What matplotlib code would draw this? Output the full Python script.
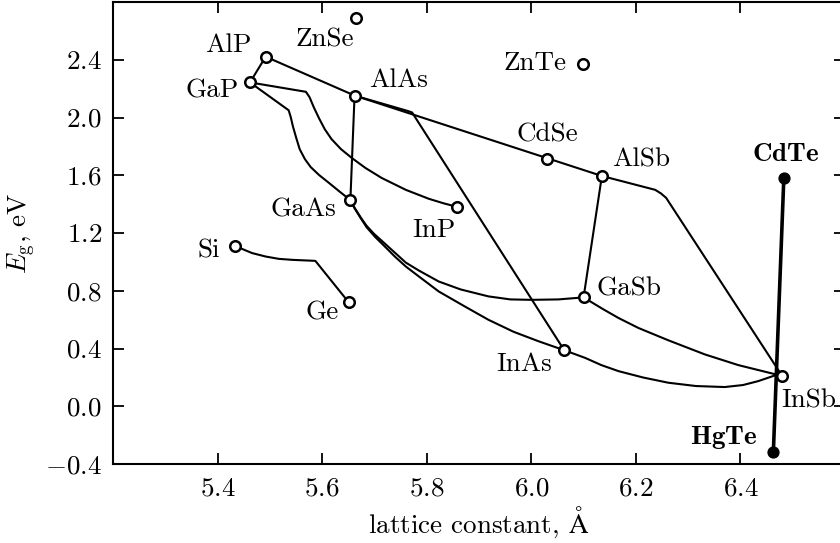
import numpy as np
import matplotlib
matplotlib.use('Agg')
import matplotlib.pyplot as plt
from matplotlib.ticker import FuncFormatter

plt.rcParams['font.family'] = ['cmr10', 'STIXGeneral']
plt.rcParams['mathtext.fontset'] = 'cm'
plt.rcParams['axes.unicode_minus'] = False

# Binary compounds / elements: lattice constant (Angstrom) and band gap (eV)
names = ['AlP', 'GaP', 'AlAs', 'GaAs', 'InP', 'InAs', 'CdSe', 'AlSb',
         'GaSb', 'InSb', 'Si', 'Ge', 'ZnSe', 'ZnTe']
lattice = [5.492, 5.462, 5.662, 5.654, 5.858, 6.063, 6.030, 6.135,
           6.100, 6.480, 5.434, 5.651, 5.664, 6.098]
gap = [2.421, 2.243, 2.152, 1.428, 1.381, 0.388, 1.710, 1.595,
       0.754, 0.209, 1.110, 0.719, 2.692, 2.374]

# HgTe-CdTe line (drawn heavier)
hgcd_names = ['HgTe', 'CdTe']
hgcd_lattice = [6.463, 6.483]
hgcd_gap = [-0.315, 1.581]

# Alloy curves between compounds, (a, Eg) points
alp_gap = [(5.492, 2.421), (5.462, 2.243)]
alp_alas = [(5.492, 2.421), (5.662, 2.152)]
alas_alsb = [(5.662, 2.152), (6.135, 1.595)]
alsb_insb = [(6.135, 1.595), (6.237, 1.499), (6.248, 1.474), (6.258, 1.443),
             (6.480, 0.209)]
alas_inas = [(5.662, 2.152), (5.764, 2.045), (5.772, 2.035), (6.063, 0.388)]
alas_gaas = [(5.662, 2.152), (5.654, 1.428)]
alsb_gasb = [(6.135, 1.595), (6.100, 0.754)]
gap_inp = [(5.462, 2.243), (5.569, 2.178), (5.576, 2.140), (5.584, 2.071),
           (5.594, 1.995), (5.605, 1.919), (5.618, 1.850), (5.636, 1.781),
           (5.657, 1.719), (5.683, 1.650), (5.714, 1.581), (5.760, 1.499),
           (5.804, 1.437), (5.832, 1.406), (5.858, 1.381)]
gap_gaas = [(5.462, 2.243), (5.536, 2.050), (5.540, 2.002), (5.544, 1.940),
            (5.550, 1.864), (5.557, 1.781), (5.567, 1.712), (5.578, 1.657),
            (5.594, 1.602), (5.613, 1.547), (5.634, 1.485), (5.654, 1.428)]
gaas_gasb = [(5.654, 1.428), (5.662, 1.375), (5.674, 1.306), (5.685, 1.250),
             (5.699, 1.195), (5.718, 1.133), (5.739, 1.064), (5.760, 0.995),
             (5.785, 0.940), (5.823, 0.864), (5.865, 0.809), (5.918, 0.761),
             (5.960, 0.740), (6.000, 0.737), (6.052, 0.740), (6.100, 0.754)]
gaas_inas = [(5.654, 1.428), (5.662, 1.371), (5.674, 1.302), (5.685, 1.240),
             (5.701, 1.174), (5.720, 1.106), (5.739, 1.037), (5.760, 0.968),
             (5.785, 0.899), (5.823, 0.795), (5.871, 0.695), (5.918, 0.599),
             (5.966, 0.516), (6.014, 0.450), (6.063, 0.388)]
inas_insb = [(6.063, 0.388), (6.103, 0.335), (6.134, 0.285), (6.167, 0.243),
             (6.214, 0.199), (6.262, 0.163), (6.315, 0.140), (6.370, 0.133),
             (6.405, 0.147), (6.434, 0.174), (6.468, 0.216), (6.480, 0.209)]
gasb_insb = [(6.100, 0.754), (6.138, 0.671), (6.167, 0.611), (6.205, 0.542),
             (6.262, 0.457), (6.332, 0.359), (6.396, 0.285), (6.465, 0.223),
             (6.480, 0.209)]
si_ge = [(5.434, 1.110), (5.450, 1.085), (5.466, 1.061), (5.492, 1.037),
         (5.517, 1.021), (5.543, 1.014), (5.587, 1.007), (5.651, 0.719)]

curves = [alp_gap, alp_alas, alas_alsb, alsb_insb, alas_inas, alas_gaas,
          alsb_gasb, gap_inp, gap_gaas, gaas_gasb, gaas_inas, inas_insb,
          gasb_insb, si_ge]

# label offsets from each marker, in points
label_offsets = {
    'AlP': (-27, 8), 'GaP': (-27, -6), 'AlAs': (32, 11), 'GaAs': (-34, -7),
    'InP': (-17, -17), 'InAs': (-29, -10), 'CdSe': (0, 18), 'AlSb': (28, 12),
    'GaSb': (33, 6), 'InSb': (19, -18), 'Si': (-19, -3), 'Ge': (-19, -7),
    'ZnSe': (-22, -16), 'ZnTe': (-34, 0), 'HgTe': (-36, 10), 'CdTe': (1, 17),
}

fig = plt.figure(figsize=(8.4, 5.43), dpi=100)
ax = fig.add_axes([113 / 840, 79 / 543, 732 / 840, 462 / 543])

for c in curves:
    pts = np.array(c)
    ax.plot(pts[:, 0], pts[:, 1], color='black', lw=1.5,
            solid_joinstyle='round', solid_capstyle='round', zorder=2)

ax.plot(hgcd_lattice, hgcd_gap, color='black', lw=2.6, zorder=3)
ax.plot(hgcd_lattice, hgcd_gap, 'o', color='black', ms=7.8, zorder=4)

ax.plot(lattice, gap, 'o', mfc='white', mec='black', mew=1.8, ms=7.6,
        ls='none', zorder=5)

for n, a, e in zip(names, lattice, gap):
    ax.annotate(n, (a, e), xytext=label_offsets[n], textcoords='offset points',
                ha='center', va='center', fontsize=19.5)
for n, a, e in zip(hgcd_names, hgcd_lattice, hgcd_gap):
    ax.annotate(r'$\mathbf{%s}$' % n, (a, e), xytext=label_offsets[n],
                textcoords='offset points', ha='center', va='center',
                fontsize=19.5)

ax.set_xlim(5.2, 6.6)
ax.set_ylim(-0.4, 2.8)
ax.set_xticks([5.4, 5.6, 5.8, 6.0, 6.2, 6.4])
ax.set_yticks([-0.4, 0.0, 0.4, 0.8, 1.2, 1.6, 2.0, 2.4])
fmt = FuncFormatter(lambda v, p: r'$%.1f$' % v)
ax.xaxis.set_major_formatter(fmt)
ax.yaxis.set_major_formatter(fmt)
ax.tick_params(direction='in', top=True, right=True, length=8, width=1.3,
               labelsize=19.5)
ax.tick_params(axis='x', pad=9)
ax.tick_params(axis='y', pad=8)
for s in ax.spines.values():
    s.set_linewidth(1.5)

ax.set_xlabel(r'lattice constant, $\mathrm{\AA}$', fontsize=19.5, labelpad=3)
ax.set_ylabel(r'$E_{\rm g}$, eV', fontsize=19.5, labelpad=5)

fig.savefig('out.png', dpi=100)
